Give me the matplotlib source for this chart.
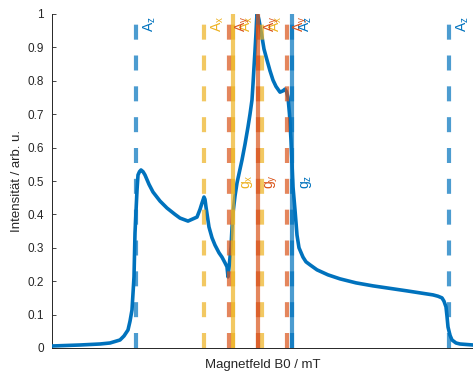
import matplotlib
matplotlib.use("Agg")
import matplotlib.pyplot as plt

plt.rcParams['font.family'] = ['Liberation Sans', 'DejaVu Sans']
plt.rcParams['mathtext.default'] = 'regular'

# spectrum (field in arbitrary mT offset, intensity normalised)
field = [0, 28, 48, 58, 68, 72, 76, 78, 80, 82, 83, 85, 86, 87.5, 89, 91, 93, 97,
         101, 108, 115, 123, 128, 136, 145, 148, 150, 152, 153, 154, 157, 160,
         163, 167, 170, 173, 175, 176, 177, 179, 180, 181, 183, 185, 190, 193,
         196, 198, 200, 201, 202, 203, 204, 204.5, 205, 206, 207, 210, 212, 215,
         218, 221, 224, 228, 231, 233, 234.5, 236, 237.5, 239, 241, 243, 245,
         247, 251, 254, 258, 265, 276, 288, 304, 321, 355, 381, 386, 390, 392,
         394, 395, 396, 398, 400, 404, 408, 421]
intensity = [0.006, 0.009, 0.012, 0.015, 0.024, 0.036, 0.054, 0.08, 0.114, 0.213,
             0.344, 0.473, 0.518, 0.528, 0.533, 0.528, 0.518, 0.49, 0.467, 0.44,
             0.419, 0.40, 0.389, 0.380, 0.392, 0.415, 0.434, 0.452, 0.445, 0.422,
             0.362, 0.33, 0.308, 0.285, 0.272, 0.255, 0.243, 0.213, 0.24, 0.302,
             0.36, 0.404, 0.455, 0.494, 0.563, 0.61, 0.662, 0.70, 0.743, 0.79,
             0.841, 0.89, 0.943, 0.975, 1.0, 0.995, 0.982, 0.931, 0.895, 0.862,
             0.83, 0.802, 0.783, 0.766, 0.77, 0.775, 0.768, 0.751, 0.70, 0.623,
             0.482, 0.413, 0.338, 0.30, 0.272, 0.258, 0.249, 0.234, 0.219, 0.207,
             0.195, 0.186, 0.171, 0.159, 0.155, 0.150, 0.14, 0.123, 0.095, 0.063,
             0.038, 0.024, 0.015, 0.012, 0.009]

components = ['x', 'y', 'z']
g_pos = [181, 206, 240]
A_split = [29, 29, 156.5]
colors = ['#EDB120', '#D95319', '#0072BD']

label_offset = 14
A_label_y = 0.945
g_label_y = 0.475

fig = plt.figure(figsize=(4.73, 3.77), dpi=100)
ax = fig.add_axes([52/473, 1-348/377, 421/473, 334/377])

ax.plot(field, intensity, color='#0072BD', lw=2.6, zorder=3,
        solid_capstyle='round', solid_joinstyle='round')

for comp, g, A, c in zip(components, g_pos, A_split, colors):
    for xpos in (g - A, g, g + A):
        ax.plot([xpos, xpos], [0, 1], color=c, lw=3, alpha=0.7, dashes=(3.6, 3.8), zorder=4)
        ax.text(xpos + label_offset, A_label_y, 'A$_{%s}$' % comp, color=c, rotation=90,
                ha='center', va='bottom', fontsize=10, zorder=5)
    ax.plot([g, g], [0, 1], color=c, lw=3, alpha=0.7, zorder=4)
    ax.text(g + label_offset, g_label_y, 'g$_{%s}$' % comp, color=c, rotation=90,
            ha='center', va='bottom', fontsize=10, zorder=5)

ax.set_xlim(0, 421)
ax.set_ylim(0, 1)
ax.set_yticks([i / 10 for i in range(11)])
ax.set_yticklabels(['0', '0.1', '0.2', '0.3', '0.4', '0.5', '0.6', '0.7', '0.8', '0.9', '1'])
ax.set_xticks([])
ax.tick_params(axis='y', direction='in', length=3, width=0.6, colors='#262626',
               labelsize=8.5, pad=6)
for side in ('top', 'right'):
    ax.spines[side].set_visible(False)
for side in ('left', 'bottom'):
    ax.spines[side].set_color('#262626')
    ax.spines[side].set_linewidth(0.7)

ax.set_xlabel('Magnetfeld B0 / mT', fontsize=9.5, color='#262626', labelpad=8)
ax.set_ylabel('Intensität / arb. u.', fontsize=9.5, color='#262626', labelpad=3)

fig.savefig('out.png', dpi=100)
